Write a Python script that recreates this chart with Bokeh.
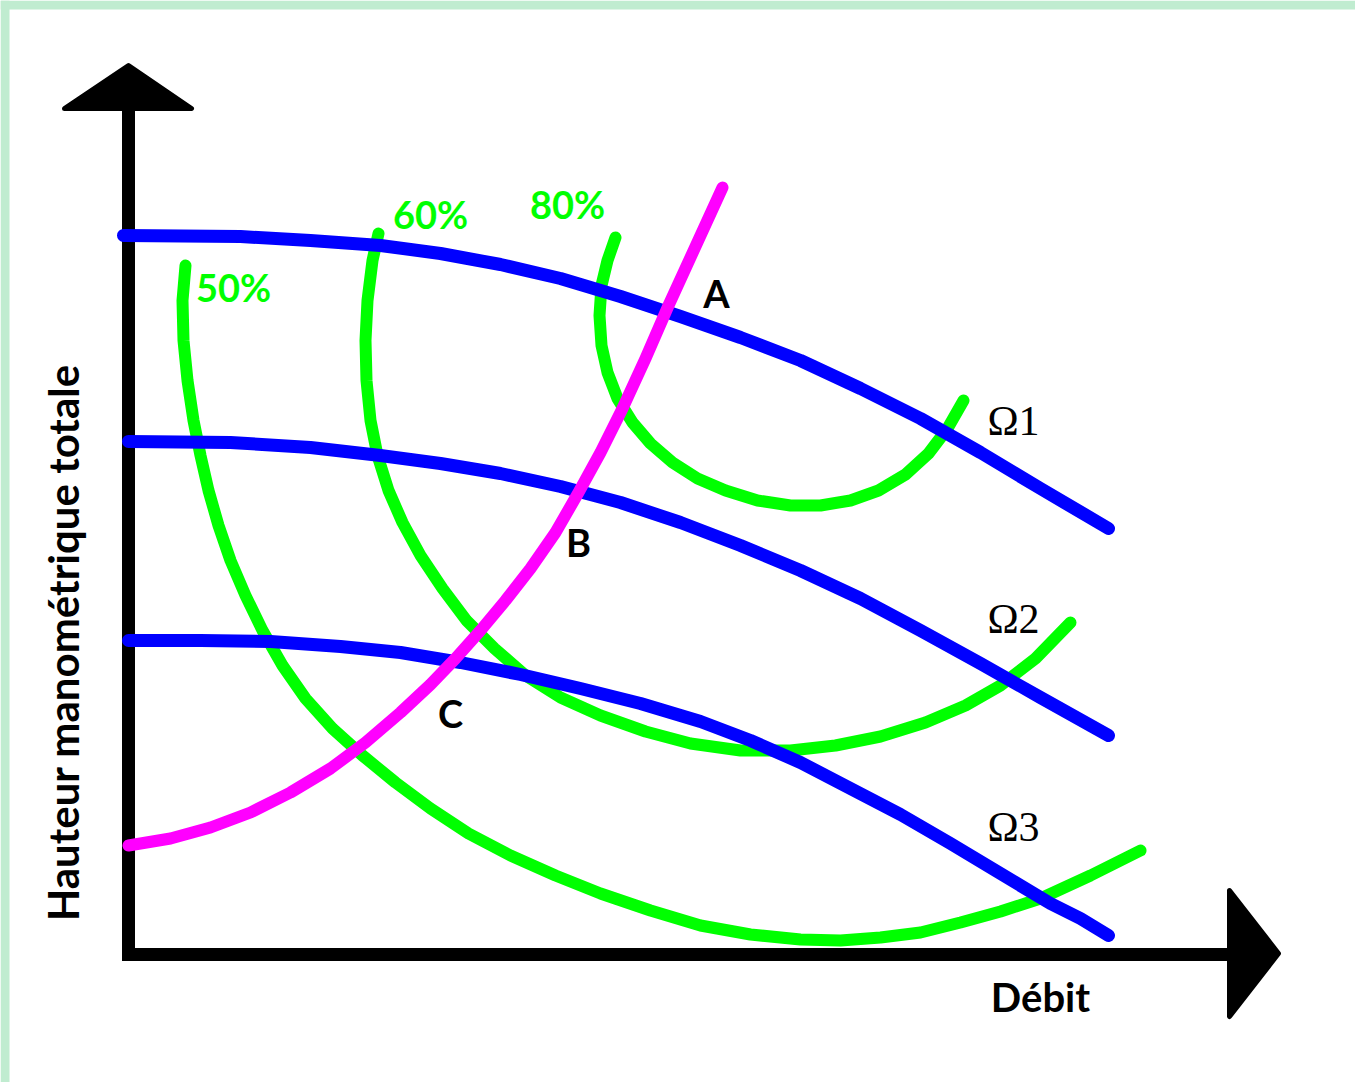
import math
from bokeh.plotting import figure
from bokeh.models import Range1d
from bokeh.core.properties import value
from bokeh.embed import file_html
from bokeh.resources import INLINE

# Pump characteristic curves (flow Q, head H) for three rotation speeds
omega1_q = [-5, 112, 182, 252, 312, 372, 432, 492, 552, 612, 672, 732, 792, 852, 912, 980]
omega1_h = [720, 719, 715, 710, 702, 691, 677, 659, 639, 618, 595, 567, 537, 503, 467, 427]

omega2_q = [0, 102, 182, 252, 312, 372, 432, 492, 552, 612, 672, 732, 792, 852, 912, 980]
omega2_h = [514, 513, 508, 500, 492, 482, 469, 453, 433, 410, 385, 357, 325, 292, 258, 220]

omega3_q = [0, 72, 142, 212, 272, 332, 392, 452, 512, 572, 622, 672, 722, 772, 822, 872, 922, 952, 980]
omega3_h = [315, 315, 314, 309, 303, 293, 281, 267, 252, 234, 215, 193, 167, 141, 112, 82, 52, 37, 20]

# Iso-efficiency curves
eff50_q = [57, 54, 55, 59, 65, 72, 80, 90, 102, 117, 134, 154, 177, 204, 234, 267, 302, 340, 382,
           427, 472, 522, 572, 622, 672, 712, 752, 792, 832, 872, 912, 962, 1012]
eff50_h = [690, 655, 615, 575, 535, 500, 465, 430, 395, 360, 325, 290, 257, 227, 200, 173, 147, 122,
           100, 80, 62, 45, 30, 21, 16, 15, 18, 23, 33, 44, 57, 80, 105]

eff60_q = [250, 244, 239, 237, 238, 242, 249, 260, 274, 292, 314, 338, 366, 397, 432, 472, 517,
           562, 612, 662, 707, 752, 797, 837, 872, 907, 942]
eff60_h = [722, 695, 655, 615, 575, 535, 500, 465, 433, 400, 367, 335, 307, 280, 258, 240, 224,
           212, 205, 205, 210, 219, 233, 250, 270, 297, 333]

eff80_q = [487, 479, 473, 471, 473, 479, 489, 504, 522, 544, 569, 597, 629, 662, 692, 722, 750,
           777, 800, 819, 835]
eff80_h = [718, 695, 670, 640, 610, 583, 557, 533, 512, 493, 477, 465, 455, 450, 450, 455, 465,
           481, 502, 527, 555]

# System (network) curve
system_q = [0, 42, 82, 122, 162, 202, 237, 272, 302, 327, 352, 377, 402, 427, 450, 472, 494, 517,
            540, 567, 594]
system_h = [110, 117, 128, 143, 163, 187, 213, 243, 271, 297, 325, 355, 387, 423, 463, 503, 547, 597,
            650, 709, 768]

# Labels
eff_labels = ["50%", "60%", "80%"]
eff_label_q = [105, 302, 439]
eff_label_h = [669, 742, 752]

point_labels = ["A", "B", "C"]
point_label_q = [588, 450, 322]
point_label_h = [663, 414, 243]

speed_labels = ["\u03a91", "\u03a92", "\u03a93"]
speed_label_q = [885, 885, 885]
speed_label_h = [535, 337, 129]

x_title = "Débit"
y_title = "Hauteur manométrique totale"

GREEN = "#00ff00"
BLUE = "#0000ff"
MAGENTA = "#ff00ff"

p = figure(width=1355, height=1082, output_backend="svg", toolbar_location=None,
           x_range=Range1d(-128, 1227), y_range=Range1d(-127, 955),
           min_border=0, outline_line_color=None,
           background_fill_color="white", border_fill_color="white")
p.axis.visible = False
p.grid.visible = False

# pale frame along the top and left edges
p.quad(left=[-128, -128], right=[-119, 1227], bottom=[-127, 946], top=[955, 955],
       fill_color="#c0ecd0", line_color=None)

# axes with arrowheads
p.line([0, 0], [-5.5, 846], line_width=13, line_color="black")
p.line([-6.5, 1100], [1, 1], line_width=13, line_color="black")
p.patch([-64, 0, 63], [847, 890, 847], fill_color="black", line_color="black",
        line_width=5, line_join="round")
p.patch([1101, 1150, 1101], [65, 2, -61], fill_color="black", line_color="black",
        line_width=5, line_join="round")

line_kw = dict(line_cap="round", line_join="round")
for q, h in [(eff50_q, eff50_h), (eff60_q, eff60_h), (eff80_q, eff80_h)]:
    p.line(q, h, line_color=GREEN, line_width=12, **line_kw)
for q, h in [(omega1_q, omega1_h), (omega2_q, omega2_h), (omega3_q, omega3_h)]:
    p.line(q, h, line_color=BLUE, line_width=13, **line_kw)
p.line(system_q, system_h, line_color=MAGENTA, line_width=12, **line_kw)

p.text(eff_label_q, eff_label_h, text=eff_labels, text_color=GREEN,
       text_font=value("Lato"), text_font_size="38px", text_font_style="bold",
       text_align="center", text_baseline="middle")
p.text(point_label_q, point_label_h, text=point_labels, text_color="black",
       text_font=value("Lato"), text_font_size="38px", text_font_style="bold",
       text_align="center", text_baseline="middle")
p.text(speed_label_q, speed_label_h, text=speed_labels, text_color="black",
       text_font=value("Liberation Serif"), text_font_size="42px",
       text_align="center", text_baseline="middle")
p.text([912], [-41], text=[x_title], text_color="black",
       text_font=value("Lato"), text_font_size="40px", text_font_style="bold",
       text_align="center", text_baseline="middle")
p.text([-66], [313], text=[y_title], text_color="black", angle=math.pi / 2,
       text_font=value("Lato"), text_font_size="42px", text_font_style="bold",
       text_align="center", text_baseline="middle")

open("out.html", "w").write(file_html(p, INLINE))
